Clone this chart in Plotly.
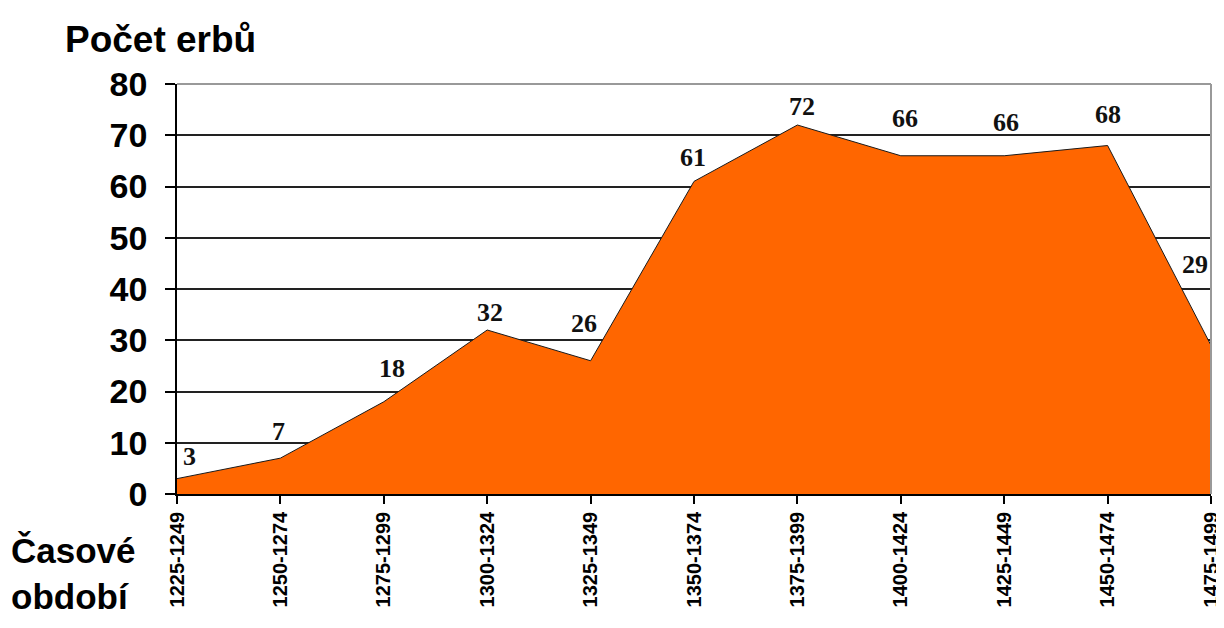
import plotly.graph_objects as go

periods = ["1225-1249", "1250-1274", "1275-1299", "1300-1324", "1325-1349",
           "1350-1374", "1375-1399", "1400-1424", "1425-1449", "1450-1474", "1475-1499"]
counts = [3, 7, 18, 32, 26, 61, 72, 66, 66, 68, 29]
y_ticks = [0, 10, 20, 30, 40, 50, 60, 70, 80]

# label pixel offsets (style only)
label_dx = [12, -2, 8, 3, -7, -1, 5, 4, 2, 0, -16]
label_dy = [22, 27, 33, 18, 37, 24, 19, 37, 33, 31, 81]

SANS = "Arial, Liberation Sans, sans-serif"
SERIF = "Times New Roman, Liberation Serif, serif"

fig = go.Figure()
fig.add_trace(go.Scatter(
    x=periods, y=counts, mode="lines", fill="tozeroy",
    fillcolor="#FF6600", line=dict(color="#1a1a1a", width=1),
    hoverinfo="skip", showlegend=False,
))

for p, c, dx, dy in zip(periods, counts, label_dx, label_dy):
    fig.add_annotation(x=p, y=c, text=str(c), showarrow=False,
                       xshift=dx, yshift=dy,
                       font=dict(family=SERIF, size=26, color="#111111", weight="bold"))

fig.add_annotation(xref="paper", yref="paper", x=-0.110, y=1.053, xanchor="left", yanchor="bottom",
                   text="<b>Počet erbů</b>", showarrow=False,
                   font=dict(family=SANS, size=37, color="#000000"))
fig.add_annotation(xref="paper", yref="paper", x=-0.162, y=-0.085, xanchor="left", yanchor="top",
                   text="<b>Časové<br>období</b>", showarrow=False, align="left",
                   font=dict(family=SANS, size=35, color="#000000"))

# gray plot border top/right
fig.add_shape(type="line", xref="paper", yref="paper", x0=0, x1=1, y0=1, y1=1,
              line=dict(color="#999999", width=2), layer="above")
fig.add_shape(type="line", xref="paper", yref="paper", x0=1, x1=1, y0=0, y1=1,
              line=dict(color="#999999", width=2), layer="above")

# page body has an 8px margin, so the figure is offset by 8px
fig.update_layout(
    width=1216, height=612,
    margin=dict(l=169, r=13, t=76, b=126, autoexpand=False),
    paper_bgcolor="white", plot_bgcolor="white",
    font=dict(family=SANS, color="#000000"),
    showlegend=False,
)
fig.update_xaxes(
    type="category", range=[0, len(periods) - 1], automargin=False,
    showgrid=False, showline=True, linecolor="#000000", linewidth=1.5,
    ticks="outside", ticklen=8, tickcolor="#000000", tickwidth=1.5,
    tickangle=-90, tickfont=dict(family=SANS, size=20, color="#000000", weight="bold"),
    ticklabelstandoff=0,
)
fig.update_yaxes(
    range=[0, 80], tickvals=y_ticks, automargin=False,
    showgrid=True, gridcolor="#222222", gridwidth=1.5,
    showline=True, linecolor="#000000", linewidth=1.5,
    ticks="outside", ticklen=10, tickcolor="#000000", tickwidth=1.5,
    tickfont=dict(family=SANS, size=34, color="#000000", weight="bold"),
    ticklabelstandoff=11, zeroline=False,
)

fig.write_html("out.html")
